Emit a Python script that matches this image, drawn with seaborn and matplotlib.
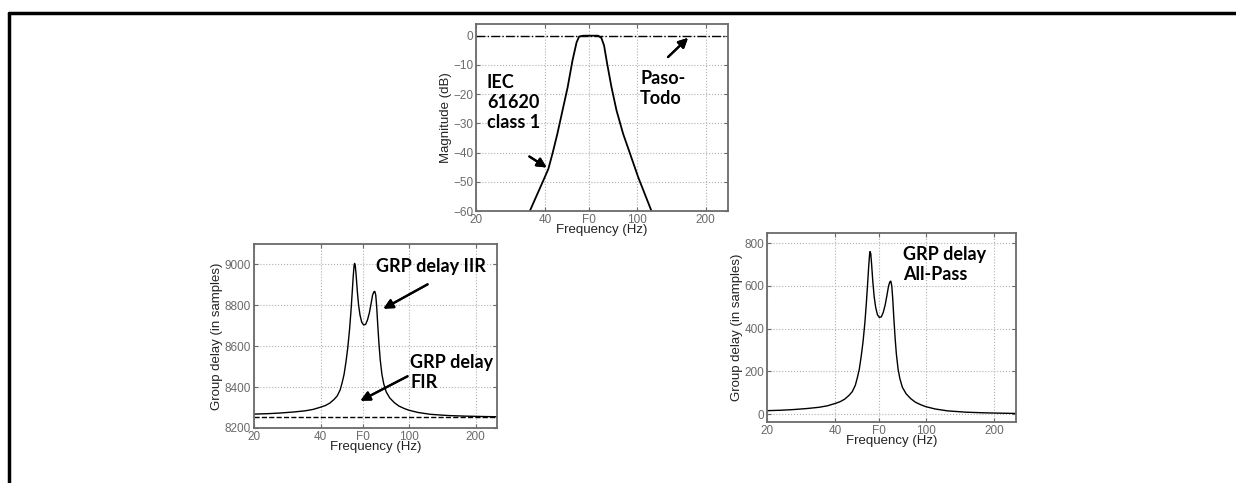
import numpy as np
import pandas as pd
import matplotlib
matplotlib.use("Agg")
import matplotlib.pyplot as plt
from matplotlib.lines import Line2D
import seaborn as sns

# ---- data ----
F0 = 62
freq_ticks = [20, 40, F0, 100, 200]
freq_tick_labels = ["20", "40", "F0", "100", "200"]

# magnitude of the IEC 61620 class 1 band-pass (dB)
mag_freq = [34.3, 39.0, 41.3, 43.1, 45.2, 47.6, 50.1, 52.6, 54.8, 56.2, 58.6,
            68.0, 70.3, 72.2, 74.5, 77.8, 81.8, 87.4, 93.5, 101.6, 116.1]
mag_db = [-60, -50.1, -45.6, -40.2, -33.6, -25.6, -17.7, -8.5, -2.3, -0.3, 0,
          0, -0.8, -3.4, -9.7, -17.7, -25.6, -33.6, -40.2, -48.4, -60]
allpass_freq = [20, 250]
allpass_db = [0, 0]

# frequencies at which the group delay curves were read
gd_freq = [20, 23, 26, 30, 34, 37, 40, 42, 44, 46, 47.5, 49, 50, 51, 52, 53, 54, 54.8, 55.5, 56.1,
           56.6, 56.9, 57.3, 57.8, 58.5, 59.3, 60.2, 61.3, 62.5, 63.8, 65, 66.3, 67.5, 68.6, 69.5, 70.2,
           70.9, 71.6, 72.4, 73.3, 74.3, 75.6, 77, 79, 82, 86, 90, 95, 100, 110, 125, 150, 180, 220, 250]

# group delay of the IIR filter (samples)
iir_delay = [8268, 8270, 8273, 8278, 8284, 8291, 8302, 8310, 8322, 8340, 8357, 8387, 8422, 8462, 8522,
             8592, 8682, 8772, 8862, 8942, 8995, 9005, 8995, 8950, 8872, 8802, 8752, 8717, 8704, 8707,
             8727, 8762, 8807, 8850, 8866, 8868, 8850, 8792, 8702, 8612, 8532, 8462, 8417, 8377, 8347,
             8324, 8308, 8296, 8287, 8276, 8267, 8261, 8258, 8256, 8255]
fir_freq = [20, 250]
fir_delay = [8256, 8256]

# group delay of the all-pass filter (samples)
ap_delay = [16, 18, 21, 26, 32, 39, 50, 58, 70, 88, 105, 135, 170, 210, 270, 340, 430, 520, 610, 690,
            745, 760, 750, 700, 620, 550, 500, 465, 452, 455, 475, 510, 555, 598, 618, 622, 600, 540,
            450, 360, 280, 210, 165, 125, 95, 72, 56, 44, 35, 24, 15, 9, 6, 4, 3]

# ---- style ----
sns.set_theme(style="ticks")
plt.rcParams["font.family"] = ["Liberation Sans", "DejaVu Sans"]
plt.rcParams["axes.edgecolor"] = "#6a6a6a"
plt.rcParams["axes.linewidth"] = 1.3
plt.rcParams["xtick.color"] = "#6a6a6a"
plt.rcParams["ytick.color"] = "#6a6a6a"

W, H = 1236, 483
fig = plt.figure(figsize=(W / 100, H / 100), dpi=100)


def px_axes(left, top, right, bottom):
    return fig.add_axes([left / W, 1 - bottom / H, (right - left) / W, (bottom - top) / H])


def fpx(x, y):
    return (x / W, 1 - y / H)


def style_axes(ax, ylim, yticks, ylabel):
    ax.set_xscale("log")
    ax.set_xlim(20, 250)
    ax.set_ylim(*ylim)
    ax.set_xticks(freq_ticks)
    ax.set_xticklabels(freq_tick_labels)
    ax.minorticks_off()
    ax.set_yticks(yticks)
    ax.tick_params(direction="in", length=3, width=0.8, labelsize=8.5, pad=2,
                   top=True, right=True, labelcolor="#6a6a6a")
    ax.grid(True, linestyle=":", color="#b0b0b0", linewidth=0.8)
    ax.set_xlabel("Frequency (Hz)", fontsize=9.5, color="#222222", labelpad=-1)
    ax.set_ylabel(ylabel, fontsize=9.5, color="#222222", labelpad=1)
    for s in ax.spines.values():
        s.set_visible(True)


# top: magnitude
ax1 = px_axes(476, 24, 728, 211)
sns.lineplot(x=mag_freq, y=mag_db, ax=ax1, color="black", lw=1.3, sort=False)
sns.lineplot(x=allpass_freq, y=allpass_db, ax=ax1, color="black", lw=1.0, linestyle="-.")
style_axes(ax1, (-60, 4), list(range(-60, 1, 10)), "Magnitude (dB)")

# bottom left: IIR / FIR group delay
ax2 = px_axes(254, 244, 497, 428)
sns.lineplot(x=gd_freq, y=iir_delay, ax=ax2, color="black", lw=1.0, sort=False)
sns.lineplot(x=fir_freq, y=fir_delay, ax=ax2, color="black", lw=1.0, linestyle="--")
style_axes(ax2, (8200, 9100), list(range(8200, 9001, 200)), "Group delay (in samples)")

# bottom right: all-pass group delay
ax3 = px_axes(767, 233, 1016, 422)
sns.lineplot(x=gd_freq, y=ap_delay, ax=ax3, color="black", lw=1.0, sort=False)
style_axes(ax3, (-37, 847), list(range(0, 801, 200)), "Group delay (in samples)")

# annotations
bold = dict(fontsize=13, fontweight="bold", family=["Lato", "DejaVu Sans"], color="black",
            va="top", ha="left", linespacing=1.2)
fig.text(*fpx(487, 74), "IEC\n61620\nclass 1", **bold)
fig.text(*fpx(640, 70), "Paso-\nTodo", **bold)
fig.text(*fpx(376, 258), "GRP delay IIR", **bold)
fig.text(*fpx(410, 354), "GRP delay\nFIR", **bold)
fig.text(*fpx(903, 246), "GRP delay\nAll-Pass", **bold)

arrow = dict(arrowstyle="-|>", color="black", lw=1.6, mutation_scale=14)
for start, end in [((527, 155), (549, 169)), ((666, 59), (690, 36)),
                   ((430, 283), (381, 310)), ((410, 375), (358, 402))]:
    fig.add_artist(plt.annotate("", xy=fpx(*end), xytext=fpx(*start),
                                xycoords="figure fraction", textcoords="figure fraction",
                                arrowprops=arrow))

# outer frame (top and left edges only)
fig.add_artist(Line2D([9 / W, 1], [1 - 13 / H, 1 - 13 / H], color="black", lw=2.5))
fig.add_artist(Line2D([9 / W, 9 / W], [0, 1 - 13 / H], color="black", lw=2.5))

fig.savefig("out.png", dpi=100, facecolor="white")
